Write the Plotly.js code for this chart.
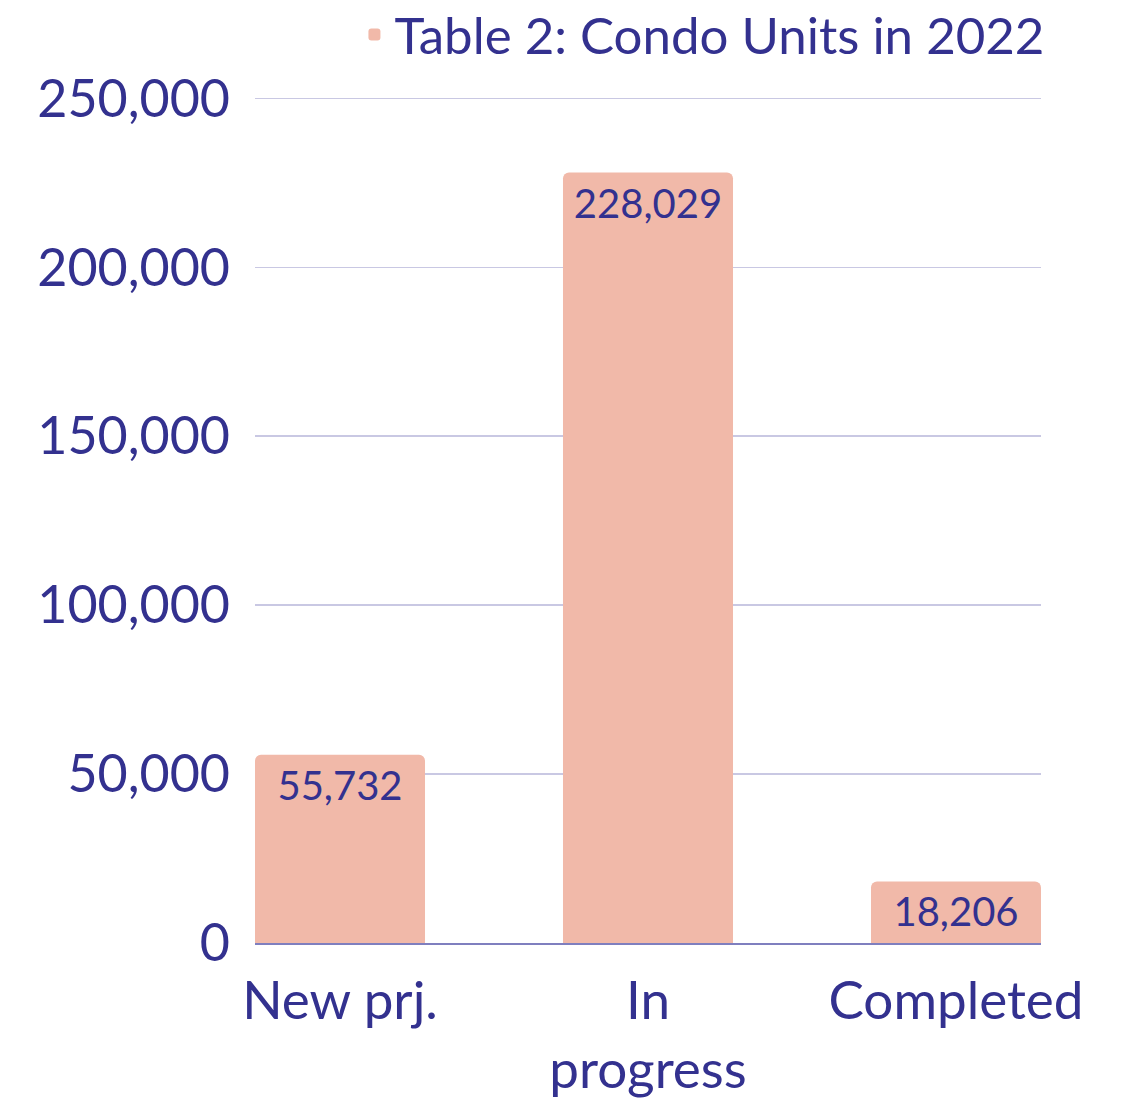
<!DOCTYPE html>
<html>
<head>
<meta charset="utf-8">
<script src="https://cdn.plot.ly/plotly-3.0.1.min.js"></script>
<style>html,body{margin:0;padding:0;background:#fff;}#chart{width:1131px;height:1099px;}</style>
</head>
<body>
<div id="chart"></div>
<script>
const categories = ["New prj.", "In<br>progress", "Completed"];
const seriesName = "Table 2: Condo Units in 2022";
const values = [55732, 228029, 18206];
const tickVals = [0, 50000, 100000, 150000, 200000, 250000];
const tickText = ["0", "50,000", "100,000", "150,000", "200,000", "250,000"];

const ink = "#33318F";
const trace = {
  type: "bar",
  name: seriesName,
  x: categories,
  y: values,
  marker: {color: "#F1B9A9"},
  texttemplate: "%{y:,}",
  textposition: "inside",
  insidetextanchor: "end",
  textangle: 0,
  constraintext: "none",
  textfont: {family: "Lato, sans-serif", size: 40, color: ink},
  hoverinfo: "none",
  showlegend: true
};

const layout = {
  width: 1131, height: 1099,
  margin: {l: 255, r: 90, t: 95, b: 156, autoexpand: false},
  paper_bgcolor: "#ffffff",
  plot_bgcolor: "#ffffff",
  font: {family: "Lato, sans-serif", color: ink, size: 52},
  bargap: 0.448,
  barcornerradius: 6,
  showlegend: true,
  legend: {
    orientation: "h",
    x: 1.012, xanchor: "right",
    y: 1.071, yanchor: "middle",
    yref: "paper",
    font: {size: 51, color: ink},
    bgcolor: "rgba(0,0,0,0)"
  },
  xaxis: {
    range: [-0.276, 2.276],
    showgrid: false,
    showline: true,
    linecolor: "#7F7FBF",
    linewidth: 2,
    ticks: "",
    ticklabelstandoff: 10,
    tickfont: {size: 53, color: ink},
    zeroline: false
  },
  yaxis: {
    range: [0, 251000],
    tickvals: tickVals,
    ticktext: tickText,
    showgrid: true,
    gridcolor: "#C9C8E3",
    gridwidth: 1.5,
    zeroline: false,
    showline: false,
    ticks: "",
    ticklabelstandoff: 24,
    tickfont: {size: 52, color: ink}
  }
};

Plotly.newPlot("chart", [trace], layout, {displayModeBar: false, staticPlot: true});
</script>
</body>
</html>
